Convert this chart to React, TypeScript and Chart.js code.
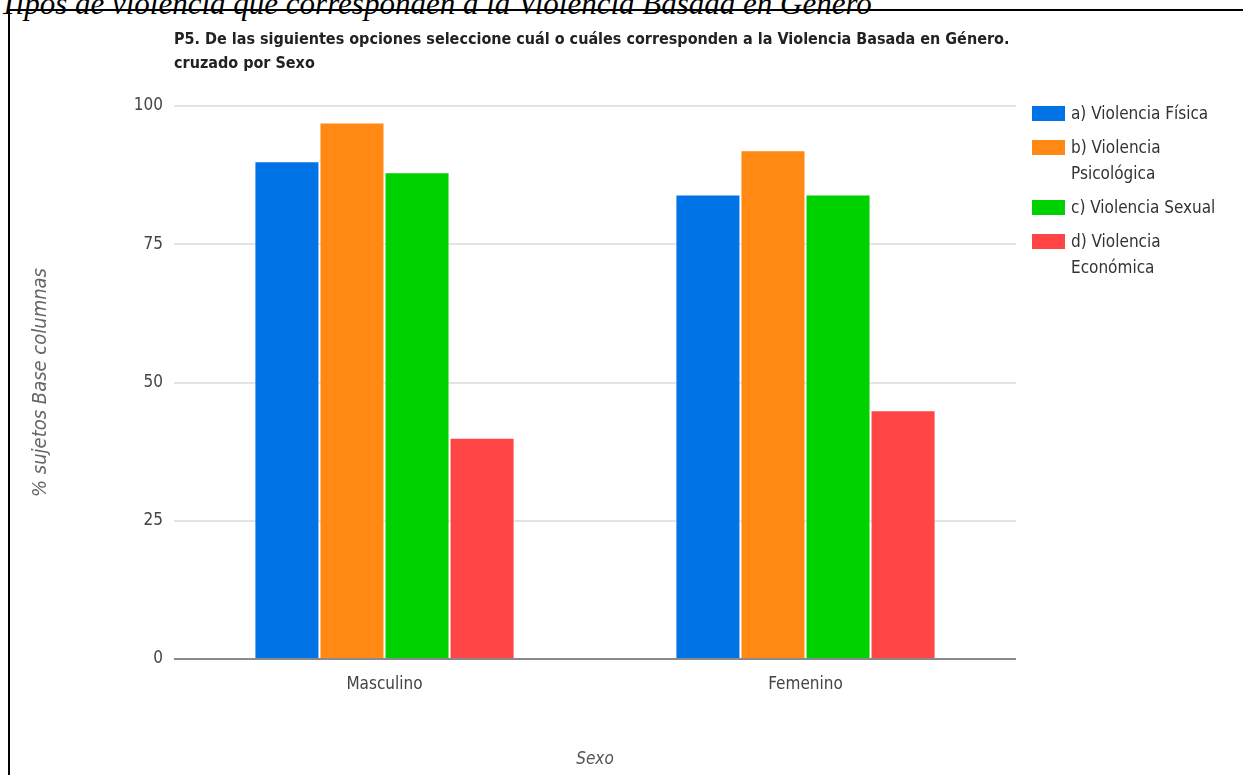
import React, { useEffect, useRef } from "react";
import { Chart, registerables } from "chart.js";

Chart.register(...registerables);

const CAPTION = "Tipos de violencia que corresponden a la Violencia Basada en Género";
const TITLE_LINES = [
  "P5. De las siguientes opciones seleccione cuál o cuáles corresponden a la Violencia Basada en Género.",
  "cruzado por Sexo",
];
const CATEGORIES = ["Masculino", "Femenino"];
const SERIES_NAMES = [
  "a) Violencia Física",
  "b) Violencia Psicológica",
  "c) Violencia Sexual",
  "d) Violencia Económica",
];
const FISICA = [90, 84];
const PSICOLOGICA = [97, 92];
const SEXUAL = [88, 84];
const ECONOMICA = [40, 45];
const SERIES_COLORS = ["#0074E6", "#FF8912", "#00D200", "#FF4545"];
const Y_TITLE = "% sujetos Base columnas";
const X_TITLE = "Sexo";

const FONT = "'DejaVu Sans Condensed', 'Liberation Sans', sans-serif";

function wrapText(ctx: CanvasRenderingContext2D, text: string, maxWidth: number): string[] {
  const words = text.split(" ");
  const lines: string[] = [];
  let cur = "";
  for (const w of words) {
    const test = cur ? cur + " " + w : w;
    if (ctx.measureText(test).width > maxWidth && cur) {
      lines.push(cur);
      cur = w;
    } else {
      cur = test;
    }
  }
  if (cur) lines.push(cur);
  return lines;
}

const overlayPlugin = {
  id: "overlay",
  afterDraw(chart: any) {
    const ctx: CanvasRenderingContext2D = chart.ctx;
    ctx.save();
    // Title
    ctx.font = `bold 16px ${FONT}`;
    ctx.fillStyle = "#222";
    ctx.textAlign = "left";
    ctx.textBaseline = "alphabetic";
    TITLE_LINES.forEach((t, i) => ctx.fillText(t, chart.chartArea.left, 33 + i * 24));

    // Legend
    ctx.font = `17px ${FONT}`;
    ctx.textBaseline = "middle";
    let y = 95;
    const boxX = 1022;
    const boxW = 33;
    const boxH = 15;
    const lineH = 26;
    chart.data.datasets.forEach((ds: any) => {
      ctx.fillStyle = ds.backgroundColor;
      ctx.fillRect(boxX, y, boxW, boxH);
      const lines = wrapText(ctx, ds.label, 150);
      ctx.fillStyle = "#333";
      lines.forEach((l, i) => ctx.fillText(l, boxX + 39, y + boxH / 2 + 1 + i * lineH));
      y += lines.length * lineH + 8;
    });
    ctx.restore();
  },
};

export default function App() {
  const ref = useRef<HTMLCanvasElement>(null);

  useEffect(() => {
    if (!ref.current) return;
    const datasetsData = [FISICA, PSICOLOGICA, SEXUAL, ECONOMICA];
    const chart = new Chart(ref.current, {
      type: "bar",
      data: {
        labels: CATEGORIES,
        datasets: SERIES_NAMES.map((name, i) => ({
          label: name,
          data: datasetsData[i],
          backgroundColor: SERIES_COLORS[i],
          borderColor: "rgba(255,255,255,0.55)",
          borderWidth: 1,
          categoryPercentage: 0.618,
          barPercentage: 1,
        })),
      },
      options: {
        animation: false,
        responsive: false,
        maintainAspectRatio: false,
        layout: { padding: { top: 95, right: 227, left: 0, bottom: 0 } },
        plugins: {
          legend: { display: false },
          title: { display: false },
          tooltip: { enabled: false },
        },
        scales: {
          x: {
            afterFit: (s: any) => {
              s.height = 116;
            },
            grid: { display: false, drawTicks: false },
            border: { display: false },
            ticks: {
              color: "#444",
              font: { family: FONT, size: 17 },
              padding: 15,
            },
            title: {
              display: true,
              text: X_TITLE,
              color: "#555",
              font: { family: FONT, size: 17, style: "italic" },
              padding: { top: 0, bottom: 5 },
            },
          },
          y: {
            min: 0,
            max: 100,
            afterFit: (s: any) => {
              s.width = 164;
            },
            grid: {
              drawTicks: false,
              lineWidth: 2,
              color: (c: any) => (c.tick && c.tick.value === 0 ? "#8a8a8a" : "#e4e4e4"),
            },
            border: { display: false },
            ticks: {
              stepSize: 25,
              color: "#444",
              font: { family: FONT, size: 17 },
              padding: 11,
            },
            title: {
              display: true,
              text: Y_TITLE,
              color: "#666",
              font: { family: FONT, size: 20, style: "italic" },
              padding: { top: 19, bottom: 0 },
            },
          },
        },
      },
      plugins: [overlayPlugin],
    });
    return () => chart.destroy();
  }, []);

  return (
    <div style={{ position: "fixed", left: 0, top: 0, width: 1243, height: 775, overflow: "hidden", background: "#fff" }}>
      <div
        style={{
          position: "absolute",
          left: 0,
          top: -12,
          whiteSpace: "nowrap",
          fontFamily: "'Liberation Serif', 'Times New Roman', serif",
          fontStyle: "italic",
          fontSize: 31,
          lineHeight: "31px",
          color: "#000",
        }}
      >
        {CAPTION}
      </div>
      <div
        style={{
          position: "absolute",
          left: 8,
          top: 9,
          width: 1260,
          height: 800,
          borderLeft: "2px solid #000",
          borderTop: "2px solid #000",
        }}
      />
      <canvas ref={ref} width={1233} height={764} style={{ position: "absolute", left: 10, top: 11 }} />
    </div>
  );
}
